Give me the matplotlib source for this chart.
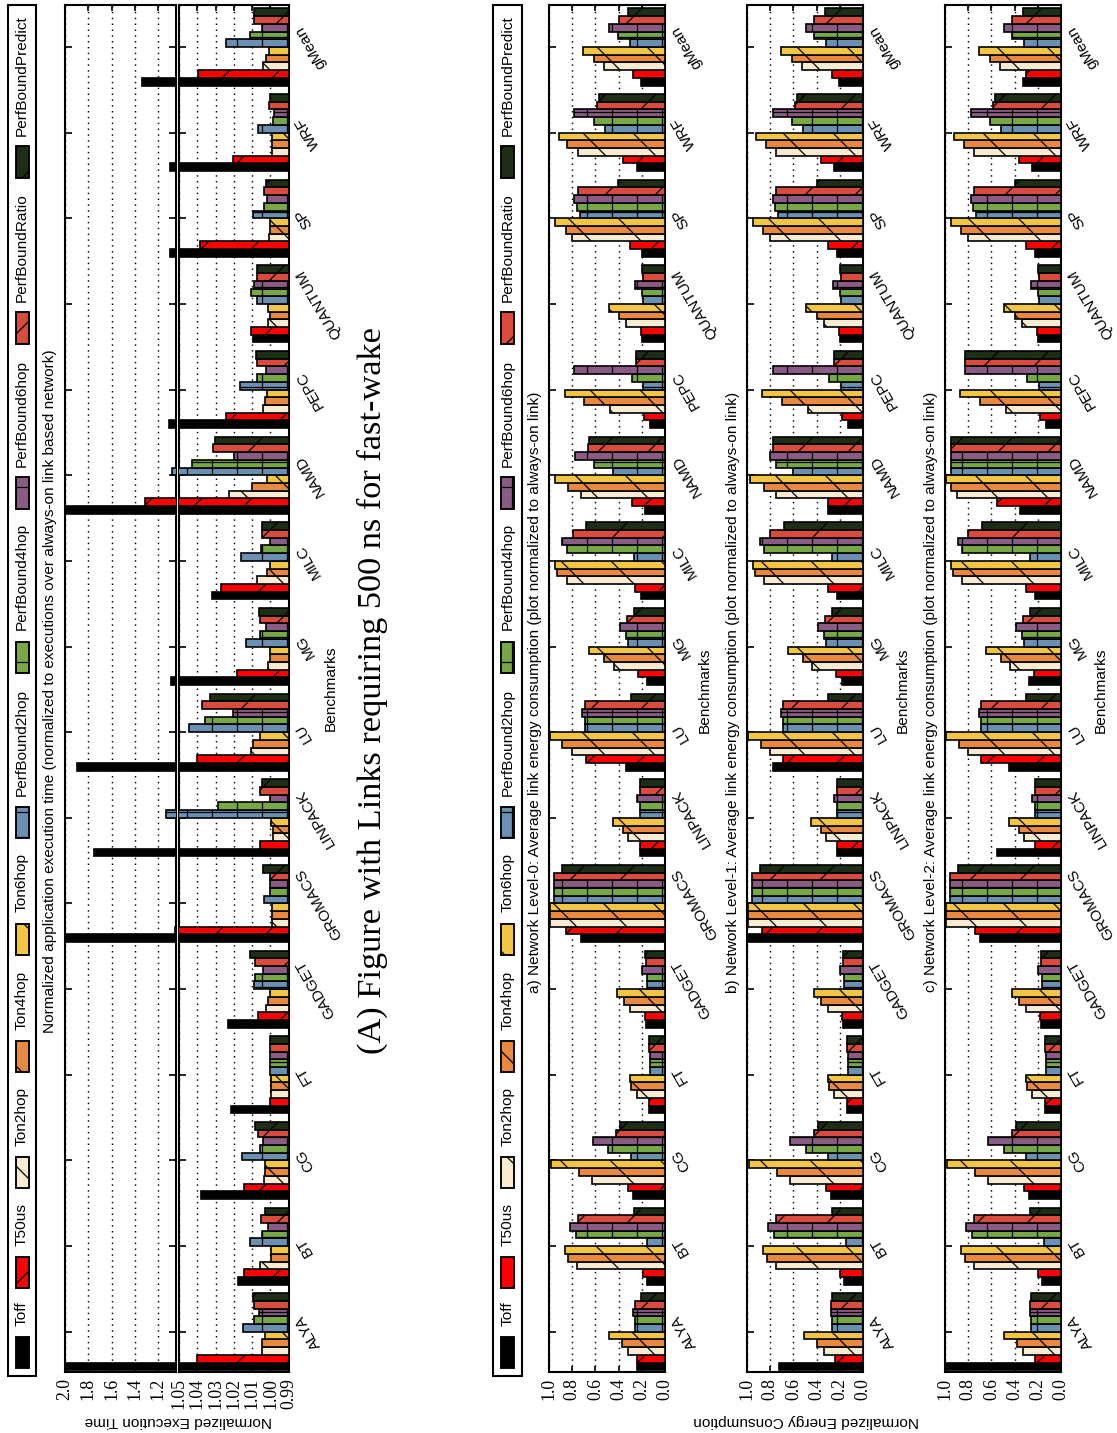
import numpy as np
import matplotlib
matplotlib.use('Agg')
import matplotlib.pyplot as plt
from matplotlib.patches import Rectangle

W, H = 1117, 1433
DPI = 150
plt.rcParams['hatch.linewidth'] = 0.6
plt.rcParams['font.family'] = ['Liberation Sans', 'DejaVu Sans']

benchmarks = ['ALYA', 'BT', 'CG', 'FT', 'GADGET', 'GROMACS', 'LINPACK', 'LU', 'MG',
              'MILC', 'NAMD', 'PEPC', 'QUANTUM', 'SP', 'WRF', 'gMean']
series = ['Toff', 'T50us', 'Ton2hop', 'Ton4hop', 'Ton6hop', 'PerfBound2hop',
          'PerfBound4hop', 'PerfBound6hop', 'PerfBoundRatio', 'PerfBoundPredict']

# ---- Panel A: normalized execution time ----
exec_toff = [2.05, 1.0178, 1.0382, 1.0218, 1.0231, 2.05, 1.75, 1.90, 1.09, 1.0322, 2.05, 1.11, 1.0095, 1.10, 1.10, 1.34]
exec_t50us = [1.0404, 1.0142, 1.0145, 1.0, 1.0067, 1.053, 1.0058, 1.04, 1.0182, 1.0269, 1.31, 1.0245, 1.0105, 1.0385, 1.0205, 1.0396]
exec_ton2 = [1.0045, 1.0058, 1.0036, 0.9995, 1.0022, 0.999, 0.9987, 1.0104, 1.0013, 1.0076, 1.0227, 1.004, 1.0013, 1.0009, 0.9991, 1.004]
exec_ton4 = [1.0045, 0.9995, 1.0027, 0.9995, 1.0013, 0.999, 0.9987, 1.0095, 1.0004, 1.0018, 1.01, 1.0031, 1.0004, 1.0, 0.9991, 1.0022]
exec_ton6 = [1.0031, 0.9995, 1.0027, 0.9995, 1.0005, 0.999, 0.9995, 1.0058, 1.0, 1.0, 1.0018, 1.0018, 1.0013, 1.0, 0.9991, 1.0009]
exec_pb2 = [1.0151, 1.0109, 1.0155, 1.0, 1.0091, 1.0036, 1.13, 1.0445, 1.0131, 1.016, 1.08, 1.0169, 1.0076, 1.0095, 1.0069, 1.0245]
exec_pb4 = [1.0091, 1.0045, 1.0055, 1.0, 1.0085, 1.0, 1.0285, 1.036, 1.0055, 1.0051, 1.0427, 1.0076, 1.0105, 1.0036, 0.9987, 1.0109]
exec_pb6 = [1.006, 1.0013, 1.004, 1.0, 1.0042, 1.0, 1.0005, 1.0204, 1.0024, 1.0, 1.02, 1.0022, 1.0091, 1.0018, 0.9978, 1.0045]
exec_pbratio = [1.0091, 1.0049, 1.0067, 1.0, 1.0082, 1.0, 1.0058, 1.0376, 1.0058, 1.0045, 1.0313, 1.0076, 1.0073, 1.0036, 1.0009, 1.0091]
exec_pbpredict = [1.0095, 1.0027, 1.0082, 1.0, 1.0109, 1.004, 1.0045, 1.0331, 1.006, 1.0045, 1.0304, 1.0078, 1.0076, 1.0022, 1.0005, 1.0091]

# ---- Panel B a): Network Level-0 energy ----
l0_toff = [.238, .157, .276, .137, .166, .724, .218, .34, .157, .203, .172, .128, .20, .195, .238, .21]
l0_t50us = [.244, .19, .32, .137, .174, .855, .218, .683, .23, .259, .282, .18, .21, .30, .36, .273]
l0_ton2 = [.32, .756, .631, .244, .302, .994, .317, .805, .436, .849, .724, .47, .34, .80, .747, .53]
l0_ton4 = [.369, .834, .738, .29, .355, .994, .36, .884, .523, .93, .834, .695, .40, .855, .843, .61]
l0_ton6 = [.485, .863, .98, .302, .413, .994, .448, .988, .651, .95, .95, .863, .485, .95, .913, .709]
l0_pb2 = [.259, .151, .297, .128, .157, .96, .215, .689, .32, .267, .45, .19, .19, .733, .515, .305]
l0_pb4 = [.262, .767, .491, .128, .157, .96, .215, .689, .334, .849, .616, .288, .195, .756, .61, .407]
l0_pb6 = [.273, .82, .625, .128, .20, .96, .244, .712, .39, .892, .776, .782, .259, .782, .782, .485]
l0_pbratio = [.262, .747, .419, .137, .166, .96, .218, .689, .326, .797, .66, .247, .186, .753, .587, .40]
l0_pbpredict = [.21, .267, .39, .137, .172, .887, .218, .297, .267, .683, .651, .253, .195, .404, .567, .32]

# ---- Panel B b): Network Level-1 energy ----
l1_toff = [.72, .16, .28, .14, .17, 1.0, .22, .78, .18, .22, .30, .13, .20, .22, .25, .21]
l1_t50us = [.24, .20, .32, .14, .18, .87, .22, .69, .23, .30, .30, .18, .21, .30, .36, .27]
l1_ton2 = [.34, .75, .63, .25, .30, .99, .32, .80, .44, .85, .75, .47, .34, .80, .75, .53]
l1_ton4 = [.40, .83, .74, .29, .36, .99, .36, .88, .52, .93, .85, .70, .40, .86, .84, .61]
l1_ton6 = [.51, .86, .98, .30, .42, .99, .45, .99, .65, .95, .97, .87, .49, .95, .92, .71]
l1_pb2 = [.27, .15, .30, .13, .16, .96, .22, .69, .32, .27, .60, .19, .19, .73, .52, .32]
l1_pb4 = [.27, .77, .49, .13, .16, .96, .22, .69, .34, .85, .75, .29, .20, .76, .61, .42]
l1_pb6 = [.28, .82, .63, .13, .20, .96, .25, .71, .39, .89, .80, .78, .26, .78, .78, .49]
l1_pbratio = [.28, .75, .42, .14, .17, .96, .22, .69, .33, .80, .78, .25, .19, .75, .59, .42]
l1_pbpredict = [.27, .27, .39, .14, .17, .89, .22, .30, .27, .68, .78, .25, .20, .40, .57, .33]

# ---- Panel B c): Network Level-2 energy ----
l2_toff = [1.0, .16, .28, .14, .17, .70, .55, .45, .28, .22, .35, .13, .20, .22, .25, .33]
l2_t50us = [.22, .20, .32, .14, .18, .74, .22, .69, .23, .30, .55, .18, .21, .30, .36, .30]
l2_ton2 = [.33, .75, .63, .25, .30, .99, .32, .80, .44, .85, .90, .47, .34, .80, .75, .53]
l2_ton4 = [.38, .83, .74, .29, .36, .99, .36, .88, .52, .93, .95, .70, .40, .86, .84, .61]
l2_ton6 = [.49, .86, .98, .30, .42, .99, .45, .99, .65, .95, .99, .87, .49, .95, .92, .71]
l2_pb2 = [.26, .15, .30, .13, .16, .96, .22, .69, .32, .27, .95, .19, .19, .73, .52, .32]
l2_pb4 = [.26, .77, .49, .13, .16, .96, .22, .69, .34, .85, .95, .29, .20, .76, .61, .42]
l2_pb6 = [.27, .82, .63, .13, .20, .96, .25, .71, .39, .89, .95, .83, .26, .78, .78, .49]
l2_pbratio = [.27, .75, .42, .14, .17, .96, .22, .69, .33, .80, .95, .83, .19, .75, .59, .42]
l2_pbpredict = [.26, .27, .39, .14, .17, .89, .22, .30, .27, .68, .95, .83, .20, .40, .57, .33]

exec_ticks_hi = [2.0, 1.8, 1.6, 1.4, 1.2]
exec_ticks_lo = [1.05, 1.04, 1.03, 1.02, 1.01, 1.00, 0.99]
energy_ticks = [1.0, 0.8, 0.6, 0.4, 0.2, 0.0]

colors = ['#000000', '#ff0000', '#f7ecd2', '#e8893f', '#f2c642', '#6a90b4',
          '#77a843', '#8a5c85', '#d94c3d', '#1d2e17']
hatches = [None, '/', '\\', '\\', '\\', '+', '+', '+', '/', '/']

SANS = 7.4
SERIF = ['Liberation Serif', 'DejaVu Serif']

fig = plt.figure(figsize=(W / DPI, H / DPI), dpi=DPI)


def rect(x0, y0, x1, y1):
    return [x0 / W, 1 - y1 / H, (x1 - x0) / W, (y1 - y0) / H]


def fx(x):
    return x / W


def fy(y):
    return 1 - y / H


pos = np.arange(len(benchmarks))
bw = 0.09


def draw_bars(ax, data, base):
    for k, vals in enumerate(data):
        y = pos - 0.45 + bw * (k + 0.5)
        ax.barh(y, np.array(vals) - base, left=base, height=bw, color=colors[k],
                edgecolor='black', linewidth=0.8, hatch=hatches[k], zorder=3)


def style_axis(ax, ticks, fmt, labels_right):
    ax.set_ylim(-0.47, 15.49)
    ax.set_yticks(pos)
    ax.set_xticks(ticks)
    ax.set_xticklabels([fmt.format(t) for t in ticks], rotation=90,
                       fontfamily=SERIF, fontsize=8.5)
    ax.grid(axis='x', linestyle=(0, (1, 3)), color='black', linewidth=0.7)
    ax.set_axisbelow(True)
    ax.tick_params(axis='x', direction='in', length=3, pad=3, top=True)
    ax.tick_params(axis='y', direction='in', length=3.5, left=True, right=True,
                   labelleft=False, labelright=labels_right, pad=2)
    if labels_right:
        ax.set_yticklabels(benchmarks, rotation=120, fontsize=SANS,
                           ha='left', va='center')
    for s in ax.spines.values():
        s.set_linewidth(1.0)


# ---------------- Panel A ----------------
exec_data = [exec_toff, exec_t50us, exec_ton2, exec_ton4, exec_ton6, exec_pb2,
             exec_pb4, exec_pb6, exec_pbratio, exec_pbpredict]
axL = fig.add_axes(rect(65, 5, 175.7, 1372))
axR = fig.add_axes(rect(179, 5, 288.7, 1372))
draw_bars(axL, exec_data, 0.99)
draw_bars(axR, exec_data, 0.99)
axL.set_xlim(2.0, 1.05)
axR.set_xlim(1.05, 0.99)
style_axis(axL, exec_ticks_hi, '{:.1f}', False)
style_axis(axR, exec_ticks_lo, '{:.2f}', True)

fig.text(fx(50), fy(691), 'Normalized application execution time (normalized to executions '
         'over always-on link based network)', rotation=90, ha='center', va='center',
         fontsize=SANS)
fig.text(fx(331), fy(688), 'Benchmarks', rotation=90, ha='center', va='center', fontsize=SANS)
fig.text(fx(178), fy(1421), 'Normalized Execution Time', rotation=180, ha='center',
         va='center', fontsize=SANS)
fig.text(fx(372), fy(690), '(A) Figure with Links requiring 500 ns for fast-wake',
         rotation=90, ha='center', va='center', fontsize=16.5, fontfamily=SERIF)

# ---------------- Panel B ----------------
energy_sets = [
    [l0_toff, l0_t50us, l0_ton2, l0_ton4, l0_ton6, l0_pb2, l0_pb4, l0_pb6, l0_pbratio, l0_pbpredict],
    [l1_toff, l1_t50us, l1_ton2, l1_ton4, l1_ton6, l1_pb2, l1_pb4, l1_pb6, l1_pbratio, l1_pbpredict],
    [l2_toff, l2_t50us, l2_ton2, l2_ton4, l2_ton6, l2_pb2, l2_pb4, l2_pb6, l2_pbratio, l2_pbpredict],
]
titles = ['a) Network Level-0: Average link energy consumption (plot normalized to always-on link)',
          'b) Network Level-1: Average link energy consumption (plot normalized to always-on link)',
          'c) Network Level-2: Average link energy consumption (plot normalized to always-on link)']
x_left = [549, 747, 945]
for i in range(3):
    ax = fig.add_axes(rect(x_left[i], 5, x_left[i] + 116, 1372))
    draw_bars(ax, energy_sets[i], 0.0)
    ax.set_xlim(1.0, 0.0)
    style_axis(ax, energy_ticks, '{:.1f}', True)
    fig.text(fx(x_left[i] - 14), fy(692), titles[i], rotation=90, ha='center',
             va='center', fontsize=SANS)
    fig.text(fx(x_left[i] + 156), fy(690), 'Benchmarks', rotation=90, ha='center',
             va='center', fontsize=SANS)
fig.text(fx(806), fy(1421), 'Normalized Energy Consumption', rotation=180, ha='center',
         va='center', fontsize=SANS)

# ---------------- Legends ----------------
legend_cy = [1352, 1272, 1172, 1056, 939, 822, 657, 493, 328, 162]


def draw_legend(x0, x1):
    fig.add_artist(Rectangle((fx(x0), fy(1376)), (x1 - x0) / W, 1371 / H,
                             transform=fig.transFigure, fill=False,
                             edgecolor='black', linewidth=1.0))
    xc = (x0 + x1) / 2
    for k in range(len(series)):
        cy = legend_cy[k]
        fig.add_artist(Rectangle((fx(xc - 6.5), fy(cy + 15.5)), 13 / W, 31 / H,
                                 transform=fig.transFigure, facecolor=colors[k],
                                 edgecolor='black', hatch=hatches[k], linewidth=0.9))
        fig.text(fx(xc), fy(cy - 15.5 - 11), series[k], rotation=90, ha='center',
                 va='bottom', fontsize=SANS)


draw_legend(8, 36)
draw_legend(493, 522)

fig.savefig('out.png', dpi=DPI)
